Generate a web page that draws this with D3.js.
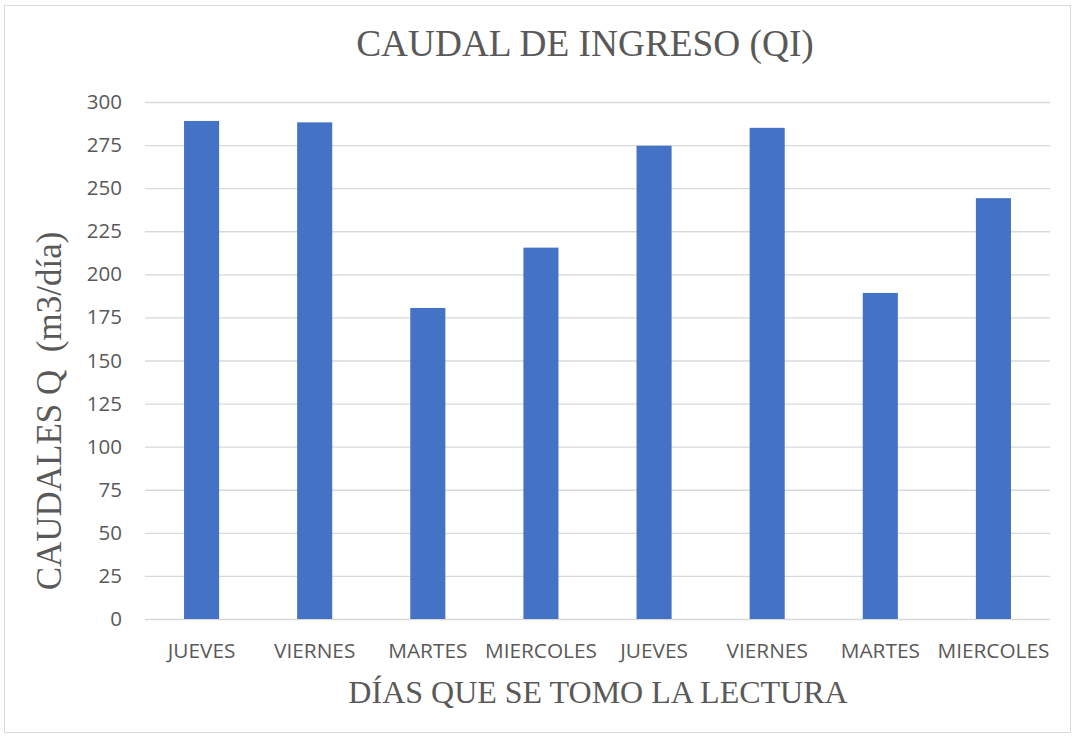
<!DOCTYPE html>
<html>
<head>
<meta charset="utf-8">
<script src="https://cdn.jsdelivr.net/npm/d3@7"></script>
<style>
html,body{margin:0;padding:0;background:#fff;}
svg{display:block;}
</style>
</head>
<body>
<script>
const categories = ["JUEVES","VIERNES","MARTES","MIERCOLES","JUEVES","VIERNES","MARTES","MIERCOLES"];
const values = [289, 288.2, 180.5, 215.5, 274.6, 285, 189.2, 244.2];
const yTicks = [0,25,50,75,100,125,150,175,200,225,250,275,300];
const title = "CAUDAL DE INGRESO (QI)";
const xTitle = "DÍAS QUE SE TOMO LA LECTURA";
const yTitle = "CAUDALES Q  (m3/día)";

const W = 1076, H = 738;
const m = {left:145, right:1050, top:102, bottom:619};
const svg = d3.select("body").append("svg").attr("width", W).attr("height", H);

svg.append("rect").attr("x",4.5).attr("y",5.5).attr("width",1066).attr("height",727)
  .attr("fill","#fff").attr("stroke","#d9d9d9").attr("stroke-width",1);

const idx = categories.map((c,i)=>i);
const x = d3.scaleBand().domain(idx).range([m.left, m.right]).paddingInner(0.69).paddingOuter(0.345);
const y = d3.scaleLinear().domain([0,300]).range([m.bottom, m.top]);

// gridlines
const grid = svg.append("g").attr("transform",`translate(${m.left},0)`)
  .call(d3.axisLeft(y).tickValues(yTicks).tickSize(-(m.right-m.left)).tickFormat(""));
grid.select(".domain").remove();
grid.selectAll("line").attr("stroke","#d9d9d9").attr("stroke-width",1.3);

// y axis labels
const ya = svg.append("g").attr("transform",`translate(${m.left-23},0)`)
  .call(d3.axisLeft(y).tickValues(yTicks).tickSize(0).tickPadding(0));
ya.select(".domain").remove();
ya.selectAll("text").attr("font-family","Open Sans").attr("font-size",20.5).attr("fill","#595959");

// bars
svg.append("g").selectAll("rect").data(values).join("rect")
  .attr("x",(d,i)=>x(i)).attr("width",x.bandwidth())
  .attr("y",d=>y(d)).attr("height",d=>y(0)-y(d))
  .attr("fill","#4472C4");

// x axis labels
const xa = svg.append("g").attr("transform",`translate(0,${m.bottom})`)
  .call(d3.axisBottom(x).tickSize(0).tickPadding(0).tickFormat(i=>categories[i]));
xa.select(".domain").remove();
xa.selectAll("text").attr("dy",null).attr("y",39)
  .attr("font-family","Open Sans").attr("font-size",20.8).attr("fill","#595959");

// titles
svg.append("text").attr("x",585).attr("y",56).attr("text-anchor","middle")
  .attr("font-family","Liberation Serif").attr("font-size",37.3).attr("fill","#595959").text(title);
svg.append("text").attr("x",598).attr("y",703).attr("text-anchor","middle")
  .attr("font-family","Liberation Serif").attr("font-size",32).attr("fill","#595959").text(xTitle);
svg.append("text").attr("transform","translate(61,411) rotate(-90)").attr("text-anchor","middle")
  .attr("font-family","Liberation Serif").attr("font-size",35).attr("fill","#595959")
  .style("white-space","pre").attr("xml:space","preserve").text(yTitle);
</script>
</body>
</html>
